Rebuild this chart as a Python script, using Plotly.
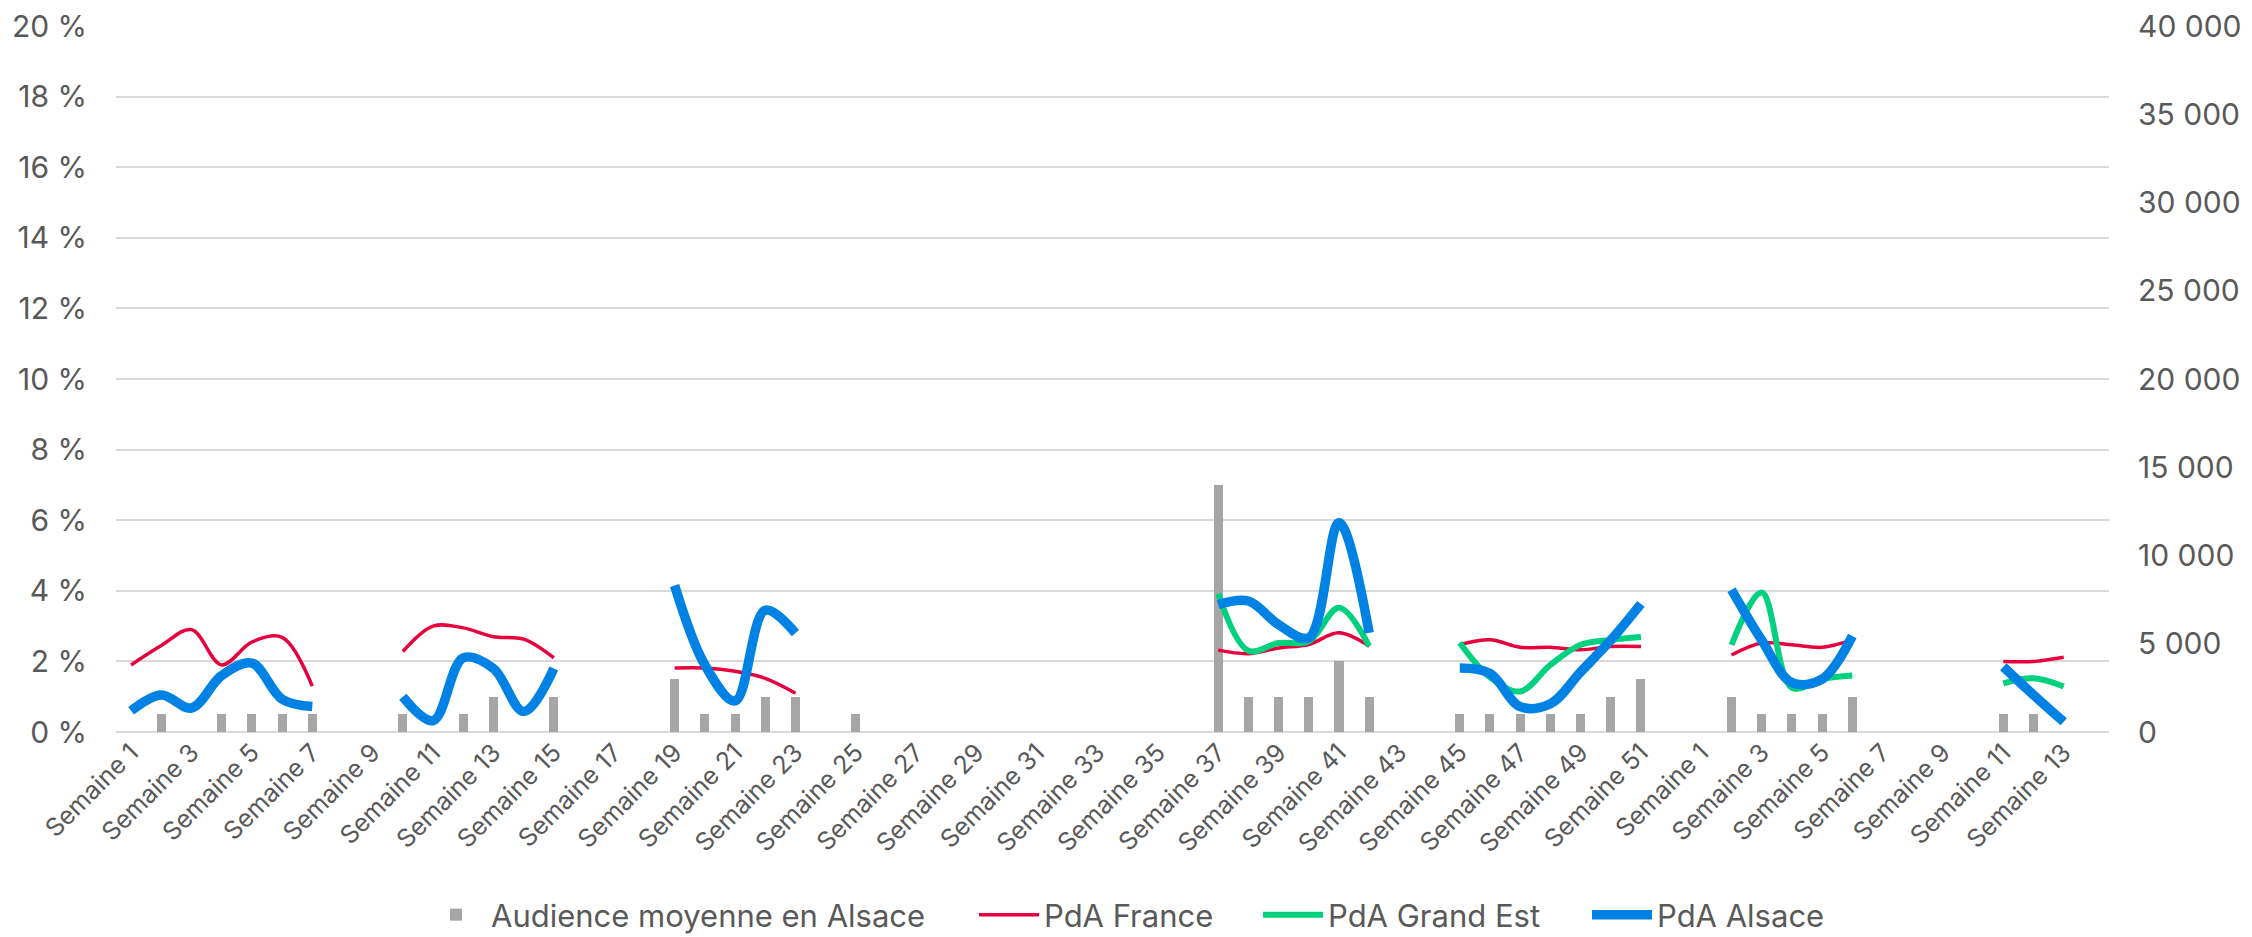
import plotly.graph_objects as go

N = None

# Categories: weeks of year 1 (1-52) then weeks of year 2 (1-14)
week_labels = [f"Semaine {i}" for i in range(1, 53)] + [f"Semaine {i}" for i in range(1, 15)]

audience = [
    N, 1000, N, 1000, 1000, 1000, 1000, N, N, 1000,          # S1-S10
    N, 1000, 2000, N, 2000, N, N, N, 3000, 1000,              # S11-S20
    1000, 2000, 2000, N, 1000, N, N, N, N, N,                 # S21-S30
    N, N, N, N, N, N, 14000, 2000, 2000, 2000,                # S31-S40
    4000, 2000, N, N, 1000, 1000, 1000, 1000, 1000, 2000,     # S41-S50
    3000, N,                                                  # S51-S52
    N, 2000, 1000, 1000, 1000, 2000, N, N, N, N,              # S1'-S10'
    1000, 1000, N, N,                                         # S11'-S14'
]

pda_france = [
    1.9, 2.45, 2.9, 1.9, 2.55, 2.68, 1.3, N, N, 2.28,
    3.0, 2.95, 2.7, 2.63, 2.1, N, N, N, 1.81, 1.81,
    1.72, 1.52, 1.1, N, N, N, N, N, N, N,
    N, N, N, N, N, N, 2.32, 2.22, 2.38, 2.48,
    2.81, 2.43, N, N, 2.47, 2.61, 2.40, 2.40, 2.33, 2.42,
    2.42, N,
    N, 2.18, 2.52, 2.47, 2.40, 2.61, N, N, N, N,
    2.0, 2.0, 2.12, N,
]

pda_grand_est = [
    N, N, N, N, N, N, N, N, N, N,
    N, N, N, N, N, N, N, N, N, N,
    N, N, N, N, N, N, N, N, N, N,
    N, N, N, N, N, N, 3.92, 2.3, 2.52, 2.57,
    3.52, 2.43, N, N, 2.53, 1.55, 1.15, 1.9, 2.47, 2.61,
    2.69, N,
    N, 2.47, 3.95, 1.25, 1.5, 1.6, N, N, N, N,
    1.38, 1.52, 1.29, N,
]

pda_alsace = [
    0.6, 1.05, 0.68, 1.6, 1.95, 0.93, 0.72, N, N, 1.0,
    0.32, 2.1, 1.8, 0.58, 1.8, N, N, N, 4.15, 1.9,
    0.88, 3.45, 2.8, N, N, N, N, N, N, N,
    N, N, N, N, N, N, 3.61, 3.71, 3.04, 2.67,
    5.93, 2.81, N, N, 1.81, 1.66, 0.72, 0.8, 1.7, 2.6,
    3.63, N,
    N, 4.03, 2.6, 1.4, 1.5, 2.72, N, N, N, N,
    1.85, 1.05, 0.29, N,
]

x = list(range(1, len(week_labels) + 1))
tick_vals = x[::2]
tick_text = week_labels[::2]

FONT = "Inter"
TXT = "#595959"
OFF = 8                     # default page body margin of the html page
W, H = 2252 - OFF, 937 - OFF

fig = go.Figure()
fig.add_trace(go.Bar(
    x=x, y=audience, name="Audience moyenne en Alsace", yaxis="y",
    marker=dict(color="#A6A6A6", line=dict(width=0)), width=0.3,
    legend="legend", showlegend=True,
))
fig.add_trace(go.Scatter(
    x=x, y=pda_france, name="PdA France", yaxis="y2", mode="lines",
    line=dict(color="#E8003D", width=3.5, shape="spline", smoothing=1.0),
    connectgaps=False, legend="legend2", showlegend=True,
))
fig.add_trace(go.Scatter(
    x=x, y=pda_grand_est, name="PdA Grand Est", yaxis="y2", mode="lines",
    line=dict(color="#00D17F", width=6, shape="spline", smoothing=1.0),
    connectgaps=False, legend="legend3", showlegend=True,
))
fig.add_trace(go.Scatter(
    x=x, y=pda_alsace, name="PdA Alsace", yaxis="y2", mode="lines",
    line=dict(color="#0082E4", width=9.5, shape="spline", smoothing=1.0),
    connectgaps=False, legend="legend4", showlegend=True,
))

leg_common = dict(orientation="h", xref="container", yref="container",
                  xanchor="left", yanchor="middle", y=1 - (915 - OFF) / H,
                  itemwidth=60,
                  font=dict(family=FONT, size=31, color=TXT),
                  bgcolor="rgba(0,0,0,0)")

# text start positions (page px) of each legend entry
text_starts = [498, 1051, 1335, 1664]

fig.update_layout(
    width=W, height=H, autosize=False,
    margin=dict(l=116 - OFF, r=143, t=26 - OFF, b=205, autoexpand=False),
    plot_bgcolor="white", paper_bgcolor="white",
    separators=", ",
    showlegend=True,
    font=dict(family=FONT, color=TXT),
    bargap=0,
    xaxis=dict(
        range=[0.5, len(week_labels) + 0.5], automargin=False,
        tickmode="array", tickvals=tick_vals, ticktext=tick_text,
        tickangle=-45, showgrid=False, zeroline=False, showline=False,
        ticks="", tickfont=dict(family=FONT, size=25, color=TXT),
        ticklabeloverflow="allow",
    ),
    yaxis=dict(
        side="right", range=[0, 40000], dtick=5000, tickformat=",d",
        showgrid=False, zeroline=False, showline=False, ticks="",
        automargin=False, ticklabeloverflow="allow",
        tickfont=dict(family=FONT, size=30, color=TXT),
        ticklabelstandoff=28,
    ),
    yaxis2=dict(
        overlaying="y", side="left", range=[0, 20], dtick=2,
        ticksuffix=" %", showgrid=True, gridcolor="#D9D9D9", gridwidth=2,
        zeroline=True, zerolinecolor="#D9D9D9", zerolinewidth=2,
        showline=False, ticks="", automargin=False,
        ticklabeloverflow="allow",
        tickfont=dict(family=FONT, size=30, color=TXT),
        ticklabelstandoff=28,
    ),
    legend=dict(leg_common, x=(text_starts[0] - 77 - OFF) / W),
    legend2=dict(leg_common, x=(text_starts[1] - 77 - OFF) / W),
    legend3=dict(leg_common, x=(text_starts[2] - 77 - OFF) / W),
    legend4=dict(leg_common, x=(text_starts[3] - 77 - OFF) / W),
)

fig.write_html("out.html")
